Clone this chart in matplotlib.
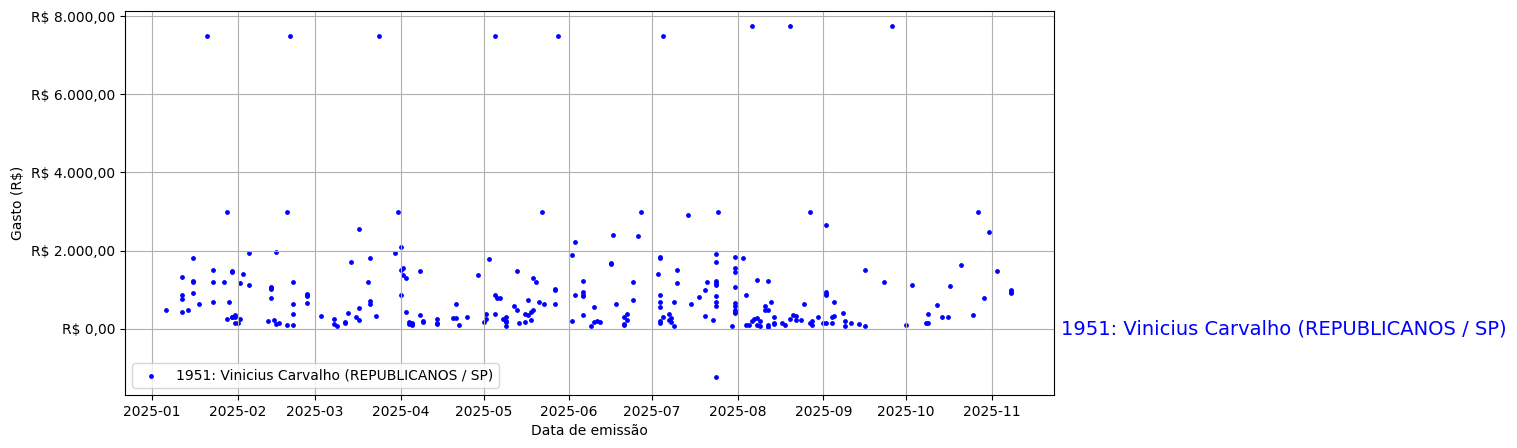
import numpy as np
import pandas as pd
import matplotlib
matplotlib.use("Agg")
import matplotlib.pyplot as plt
import matplotlib.dates as mdates
from matplotlib.ticker import FuncFormatter

nome = "1951: Vinicius Carvalho (REPUBLICANOS / SP)"

# datas de emissao e valores
datas = [
    # outliers altos
    "2025-01-21", "2025-02-20", "2025-03-24", "2025-05-05", "2025-05-28", "2025-07-05",
    "2025-08-06", "2025-08-20", "2025-09-26",
    # janeiro / fevereiro
    "2025-01-28", "2025-02-19", "2025-02-05", "2025-02-15", "2025-01-16", "2025-01-23",
    "2025-01-30", "2025-01-30", "2025-02-03", "2025-01-12", "2025-01-16", "2025-01-16",
    "2025-01-23", "2025-01-27", "2025-02-02", "2025-02-05", "2025-02-13", "2025-02-13",
    "2025-02-13", "2025-02-21", "2025-02-26", "2025-02-26", "2025-02-26", "2025-02-26",
    "2025-01-12", "2025-01-12", "2025-01-16", "2025-01-18", "2025-01-23", "2025-01-29",
    "2025-02-13", "2025-02-21", "2025-01-06", "2025-01-12", "2025-01-14", "2025-02-21",
    "2025-01-28", "2025-01-30", "2025-01-30", "2025-01-31", "2025-01-31", "2025-02-02",
    "2025-01-31", "2025-02-01", "2025-02-12", "2025-02-14", "2025-02-15", "2025-02-16",
    "2025-02-19", "2025-02-21",
    # marco / abril
    "2025-03-31", "2025-03-17", "2025-04-01", "2025-03-30", "2025-03-14", "2025-03-21",
    "2025-04-01", "2025-04-02", "2025-04-02", "2025-04-03", "2025-04-08", "2025-04-29",
    "2025-03-20", "2025-04-01", "2025-03-21", "2025-03-21", "2025-03-17", "2025-04-21",
    "2025-03-03", "2025-03-08", "2025-03-08", "2025-03-09", "2025-03-12", "2025-03-12",
    "2025-03-13", "2025-03-16", "2025-03-17", "2025-03-23", "2025-04-03", "2025-04-04",
    "2025-04-04", "2025-04-05", "2025-04-05", "2025-04-05", "2025-04-08", "2025-04-09",
    "2025-04-09", "2025-04-14", "2025-04-14", "2025-04-14", "2025-04-20", "2025-04-21",
    "2025-04-22", "2025-04-25",
    # maio / junho
    "2025-05-22", "2025-06-03", "2025-06-17", "2025-06-27", "2025-06-26", "2025-05-03",
    "2025-05-13", "2025-05-19", "2025-05-20", "2025-05-27", "2025-05-27", "2025-06-02",
    "2025-06-16", "2025-06-16", "2025-06-06", "2025-06-24", "2025-06-06", "2025-06-06",
    "2025-06-06", "2025-06-03", "2025-06-24", "2025-06-18", "2025-06-10", "2025-05-05",
    "2025-05-06", "2025-05-07", "2025-05-17", "2025-05-21", "2025-05-23", "2025-05-27",
    "2025-05-12", "2025-05-13", "2025-05-19", "2025-05-18", "2025-05-17", "2025-05-16",
    "2025-05-02", "2025-05-05", "2025-05-02", "2025-05-01", "2025-05-08", "2025-05-09",
    "2025-05-09", "2025-05-09", "2025-05-09", "2025-05-14", "2025-05-16", "2025-05-18",
    "2025-06-02", "2025-06-06", "2025-06-09", "2025-06-10", "2025-06-11", "2025-06-12",
    "2025-06-21", "2025-06-22", "2025-06-22", "2025-06-21", "2025-06-21",
    # julho / agosto
    "2025-07-14", "2025-07-25", "2025-08-27", "2025-09-02", "2025-07-04", "2025-07-04",
    "2025-07-24", "2025-07-24", "2025-07-31", "2025-08-03", "2025-07-31", "2025-07-31",
    "2025-07-10", "2025-07-03", "2025-07-10", "2025-07-21", "2025-07-24", "2025-07-24",
    "2025-07-24", "2025-07-20", "2025-07-18", "2025-07-31", "2025-08-08", "2025-08-12",
    "2025-08-04", "2025-07-04", "2025-07-04", "2025-07-04", "2025-07-09", "2025-07-15",
    "2025-07-24", "2025-07-24", "2025-07-24", "2025-07-31", "2025-07-31", "2025-07-31",
    "2025-07-31", "2025-07-31", "2025-08-25", "2025-08-13", "2025-08-11", "2025-08-11",
    "2025-08-12", "2025-07-05", "2025-07-07", "2025-07-08", "2025-07-07", "2025-07-08",
    "2025-07-09", "2025-07-04", "2025-07-04", "2025-07-20", "2025-07-23", "2025-07-30",
    "2025-08-04", "2025-08-05", "2025-08-06", "2025-08-07", "2025-08-08", "2025-08-09",
    "2025-08-08", "2025-08-09", "2025-08-12", "2025-08-12", "2025-08-14", "2025-08-14",
    "2025-08-14", "2025-08-17", "2025-08-18", "2025-08-20", "2025-08-21", "2025-08-22",
    "2025-08-22", "2025-08-24", "2025-08-27", "2025-08-28", "2025-08-28", "2025-08-30",
    "2025-07-24",
    # setembro a novembro
    "2025-10-27", "2025-10-31", "2025-09-16", "2025-09-23", "2025-10-03", "2025-10-21",
    "2025-10-17", "2025-11-03", "2025-11-08", "2025-11-08", "2025-11-08", "2025-10-29",
    "2025-10-12", "2025-10-25", "2025-10-09", "2025-10-14", "2025-10-16", "2025-10-08",
    "2025-10-09", "2025-10-01", "2025-09-02", "2025-09-02", "2025-09-02", "2025-09-05",
    "2025-09-08", "2025-09-04", "2025-09-05", "2025-09-04", "2025-09-01", "2025-09-02",
    "2025-09-09", "2025-09-09", "2025-09-11", "2025-09-14", "2025-09-16",
]

valores = [
    7500, 7500, 7500, 7500, 7500, 7500,
    7750, 7750, 7750,
    3000, 3000, 1940, 1975, 1810, 1505,
    1480, 1460, 1400, 1325, 1230, 1200,
    1200, 1200, 1170, 1130, 1080, 1050,
    1010, 1200, 900, 860, 830, 675,
    864, 762, 915, 633, 685, 685,
    787, 633, 480, 428, 480, 377,
    249, 300, 310, 350, 300, 249,
    146, 146, 197, 223, 120, 146,
    95, 95,
    3000, 2555, 2094, 1940, 1710, 1812,
    1505, 1555, 1377, 1300, 1480, 1377,
    1197, 864, 710, 633, 530, 633,
    325, 249, 120, 70, 170, 146,
    402, 300, 223, 325, 428, 170,
    120, 120, 146, 95, 351, 197,
    170, 249, 146, 120, 275, 275,
    95, 300,
    3000, 2223, 2400, 3000, 2377, 1787,
    1480, 1300, 1197, 1018, 992, 1890,
    1684, 1660, 1220, 1197, 950, 860,
    830, 864, 736, 633, 556, 864,
    787, 787, 736, 685, 633, 633,
    582, 480, 480, 428, 351, 377,
    377, 377, 249, 170, 249, 300,
    197, 170, 70, 146, 170, 223,
    197, 351, 70, 170, 197, 170,
    300, 377, 223, 120, 95,
    2915, 3000, 3000, 2660, 1840, 1812,
    1915, 1710, 1840, 1812, 1555, 1450,
    1505, 1402, 1170, 1197, 1230, 1170,
    1120, 992, 812, 1070, 1250, 1220,
    864, 864, 685, 556, 685, 633,
    840, 685, 582, 660, 582, 480,
    430, 400, 633, 685, 582, 480,
    480, 300, 377, 275, 223, 170,
    70, 197, 146, 325, 223, 70,
    95, 95, 197, 249, 275, 197,
    95, 70, 95, 50, 300, 146,
    120, 146, 95, 249, 351, 325,
    223, 223, 146, 197, 95, 300,
    -1230,
    3000, 2480, 1505, 1197, 1120, 1633,
    1095, 1480, 1000, 950, 920, 787,
    607, 351, 377, 300, 300, 146,
    146, 95, 950, 890, 860, 685,
    402, 300, 325, 146, 146, 146,
    197, 70, 146, 120, 70,
]


def reais(v, pos):
    s = f"{v:,.2f}".replace(",", "X").replace(".", ",").replace("X", ".")
    return "R$ " + s


def main():
    x = pd.to_datetime(datas)
    y = np.array(valores)

    fig = plt.figure(figsize=(15.17, 4.48), dpi=100)
    ax = fig.add_axes([125 / 1517, 53 / 448, 929 / 1517, 384 / 448])

    ax.scatter(x, y, s=6, color="blue", label=nome)

    ax.set_xlim(pd.Timestamp("2024-12-22 05:00"), pd.Timestamp("2025-11-23 12:00"))
    ax.set_ylim(-1690, 8130)
    ax.set_yticks([0, 2000, 4000, 6000, 8000])
    ax.yaxis.set_major_formatter(FuncFormatter(reais))
    ax.xaxis.set_major_locator(mdates.MonthLocator())
    ax.xaxis.set_major_formatter(mdates.DateFormatter("%Y-%m"))

    ax.text(1.008, 0, nome, transform=ax.get_yaxis_transform(),
            color="blue", fontsize=14, va="center", ha="left")

    ax.grid(True)
    ax.legend(loc="lower left")
    ax.set_xlabel("Data de emissão")
    ax.set_ylabel("Gasto (R$)")

    fig.savefig("out.png", dpi=100)


if __name__ == "__main__":
    main()
